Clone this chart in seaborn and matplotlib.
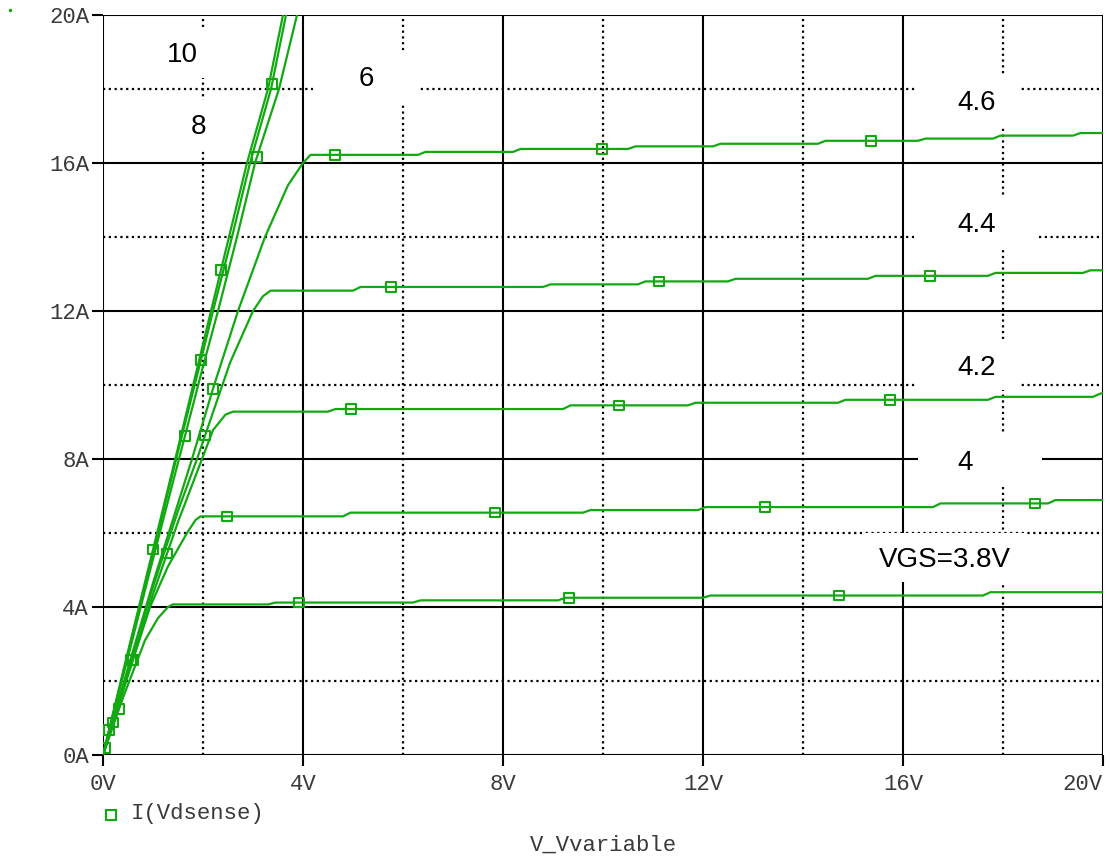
import numpy as np
import pandas as pd
import matplotlib
matplotlib.use("Agg")
import matplotlib.pyplot as plt
from matplotlib.lines import Line2D
from matplotlib.patches import Rectangle
import seaborn as sns

# Drain current vs. drain-source voltage for a sweep of gate voltages
vgs_labels = ["3.8", "4", "4.2", "4.4", "4.6", "6", "8", "10"]

vds_38 = [0, 0.4, 0.84, 1.1, 1.3, 1.4, 3.3, 3.45, 6.2, 6.35, 9.1, 9.25, 12.0, 12.15, 17.6, 17.75, 20]
id_38 = [0, 1.55, 3.1, 3.7, 4.0, 4.07, 4.07, 4.12, 4.12, 4.18, 4.18, 4.25, 4.25, 4.31, 4.31, 4.4, 4.4]

vds_40 = [0, 0.5, 0.94, 1.3, 1.68, 1.85, 1.95, 4.8, 4.95, 9.6, 9.75, 11.9, 12.05, 16.6, 16.75, 18.9, 19.05, 20]
id_40 = [0, 2.15, 4.0, 5.1, 6.0, 6.35, 6.45, 6.45, 6.55, 6.55, 6.62, 6.62, 6.7, 6.7, 6.8, 6.8, 6.89, 6.89]

vds_42 = [0, 0.5, 1.0, 1.5, 1.98, 2.2, 2.45, 2.6, 4.5, 4.65, 9.2, 9.35, 11.7, 11.85, 14.7, 14.85, 17.7, 17.85, 19.8, 19.95, 20]
id_42 = [0, 2.2, 4.35, 6.3, 8.0, 8.78, 9.2, 9.28, 9.28, 9.35, 9.35, 9.45, 9.45, 9.52, 9.52, 9.6, 9.6, 9.68, 9.68, 9.77, 9.77]

vds_44 = [0, 0.5, 1.0, 1.5, 1.88, 2.54, 3.0, 3.2, 3.35, 5.0, 5.15, 8.8, 8.95, 10.7, 10.85, 12.5, 12.65,
          15.3, 15.45, 17.7, 17.85, 19.6, 19.75, 20]
id_44 = [0, 2.3, 4.55, 6.6, 8.0, 10.6, 12.0, 12.4, 12.55, 12.55, 12.65, 12.65, 12.72, 12.72, 12.8, 12.8, 12.87,
         12.87, 12.95, 12.95, 13.03, 13.03, 13.1, 13.1]

vds_46 = [0, 0.5, 1.0, 1.78, 2.2, 2.7, 3.24, 3.7, 4.0, 4.15, 6.3, 6.45, 8.2, 8.35, 10.5, 10.65, 12.2, 12.35,
          14.3, 14.45, 16.3, 16.45, 17.8, 17.95, 19.4, 19.55, 20]
id_46 = [0, 2.35, 4.65, 8.0, 9.9, 12.0, 14.0, 15.4, 16.0, 16.22, 16.22, 16.3, 16.3, 16.38, 16.38, 16.45, 16.45, 16.52,
         16.52, 16.6, 16.6, 16.66, 16.66, 16.74, 16.74, 16.81, 16.81]

vds_60 = [0, 0.5, 1.0, 1.5, 2.0, 2.3, 2.68, 3.04, 3.52, 3.88, 4.1]
id_60 = [0, 2.65, 5.3, 7.9, 10.5, 12.0, 14.0, 16.0, 18.0, 20.0, 21.0]

vds_80 = [0, 0.5, 1.0, 1.5, 2.0, 2.2, 2.58, 2.94, 3.36, 3.66, 3.85]
id_80 = [0, 2.75, 5.45, 8.2, 10.9, 12.0, 14.0, 16.0, 18.0, 20.0, 21.0]

vds_100 = [0, 0.5, 1.0, 1.5, 2.0, 2.16, 2.52, 2.88, 3.3, 3.6, 3.78]
id_100 = [0, 2.8, 5.55, 8.3, 11.1, 12.0, 14.0, 16.0, 18.0, 20.0, 21.0]

# Voltages at which the trace symbol is placed on each curve
marks_38 = [0.32, 3.92, 9.32, 14.72]
marks_40 = [0.6, 2.48, 7.84, 13.24, 18.64]
marks_42 = [0.2, 1.28, 4.96, 10.32, 15.74]
marks_44 = [0.56, 2.04, 5.76, 11.12, 16.54]
marks_46 = [0.04, 2.2, 4.64, 9.98, 15.36]
marks_60 = [1.64, 3.08]
marks_80 = [1.96, 3.38]
marks_100 = [0.12, 1.0, 2.36]

x_ticks = [0, 4, 8, 12, 16, 20]
x_tick_labels = ["0V", "4V", "8V", "12V", "16V", "20V"]
y_ticks = [0, 4, 8, 12, 16, 20]
y_tick_labels = ["0A", "4A", "8A", "12A", "16A", "20A"]

curve_labels = ["10", "8", "6", "4.6", "4.4", "4.2", "4", "VGS=3.8V"]

vds_all = [vds_38, vds_40, vds_42, vds_44, vds_46, vds_60, vds_80, vds_100]
id_all = [id_38, id_40, id_42, id_44, id_46, id_60, id_80, id_100]
marks_all = [marks_38, marks_40, marks_42, marks_44, marks_46, marks_60, marks_80, marks_100]

curves = pd.concat(
    [pd.DataFrame({"VGS": g, "V": v, "I": i}) for g, v, i in zip(vgs_labels, vds_all, id_all)],
    ignore_index=True,
)
marks = pd.concat(
    [pd.DataFrame({"VGS": g, "V": m, "I": np.interp(m, v, i)})
     for g, v, i, m in zip(vgs_labels, vds_all, id_all, marks_all)],
    ignore_index=True,
)

sns.set_style("white")
plt.rcParams["font.family"] = ["Liberation Sans", "DejaVu Sans"]
plt.rcParams.update({
    "xtick.bottom": True, "ytick.left": True,
    "xtick.major.size": 8, "ytick.major.size": 8,
    "xtick.major.width": 1.5, "ytick.major.width": 1.5,
    "xtick.color": "black", "ytick.color": "black",
    "xtick.direction": "out", "ytick.direction": "out",
})

GREEN = "#12a812"
MONO = "Liberation Mono"
TXT = "#3a3a3a"

fig = plt.figure(figsize=(11.1, 8.6), dpi=100)
ax = fig.add_axes([103 / 1110, 105 / 860, 1000 / 1110, 740 / 860])

ax.set_xlim(0, 20)
ax.set_ylim(0, 20)
for s in ax.spines.values():
    s.set_visible(False)

# grid: solid at major divisions, dotted halfway between
for t in [0, 4, 8, 12, 16, 20]:
    ax.axvline(t, color="black", lw=1.5, zorder=1)
    ax.axhline(t, color="black", lw=1.5, zorder=1)
for t in [2, 6, 10, 14, 18]:
    ax.axvline(t, color="black", lw=1.6, ls=(0, (1, 1.6)), zorder=1)
    ax.axhline(t, color="black", lw=1.6, ls=(0, (1, 1.6)), zorder=1)

ax.set_xticks(x_ticks)
ax.set_xticklabels(x_tick_labels, fontfamily=MONO, fontsize=16, color=TXT)
ax.set_yticks(y_ticks)
ax.set_yticklabels(y_tick_labels, fontfamily=MONO, fontsize=16, color=TXT)
ax.tick_params(axis="y", pad=2)
ax.tick_params(axis="x", pad=6)
ax.get_xticklabels()[-1].set_horizontalalignment("right")

# white label boxes break the grid behind the curve annotations
label_boxes = [
    (1.58, 18.92, 0.94, 2.24, 18.3, 19.6),
    (1.90, 16.97, 1.24, 2.64, 16.35, 17.7),
    (5.26, 18.27, 4.2, 6.34, 17.62, 18.97),
    (17.48, 17.62, 16.24, 18.32, 16.97, 18.38),
    (17.48, 14.32, 16.24, 18.66, 13.73, 15.08),
    (17.48, 10.46, 16.24, 18.32, 9.86, 11.22),
    (17.24, 7.89, 16.3, 18.78, 7.24, 8.65),
    (16.84, 5.27, 15.24, 18.44, 4.68, 6.0),
]
for text, (cx, cy, x0, x1, y0, y1) in zip(curve_labels, label_boxes):
    ax.add_patch(Rectangle((x0, y0), x1 - x0, y1 - y0, facecolor="white", edgecolor="none", zorder=2))
    ax.text(cx, cy, text, ha="center", va="center", fontsize=20, color="black", zorder=5)

sns.lineplot(data=curves, x="V", y="I", units="VGS", estimator=None, sort=False,
             color=GREEN, lw=1.6, ax=ax, zorder=3, legend=False)
sns.scatterplot(data=marks, x="V", y="I", marker="s", s=48, facecolor="none",
                edgecolor=GREEN, linewidth=1.5, ax=ax, zorder=4, legend=False)

ax.set_xlabel("")
ax.set_ylabel("")

# legend entry and sweep variable name under the plot
fig.add_artist(Line2D([111 / 1110], [1 - 815 / 860], marker="s", ms=7, mfc="none",
                      mec=GREEN, mew=1.5, ls="none"))
fig.text(131 / 1110, 1 - 814 / 860, "I(Vdsense)", fontfamily=MONO, fontsize=16,
         color=TXT, ha="left", va="center")
fig.text(603 / 1110, 1 - 845 / 860, "V_Vvariable", fontfamily=MONO, fontsize=16,
         color=TXT, ha="center", va="center")
fig.add_artist(Line2D([10 / 1110], [1 - 10 / 860], marker="o", ms=1.5, color=GREEN, ls="none"))

fig.savefig("out.png", dpi=100)
